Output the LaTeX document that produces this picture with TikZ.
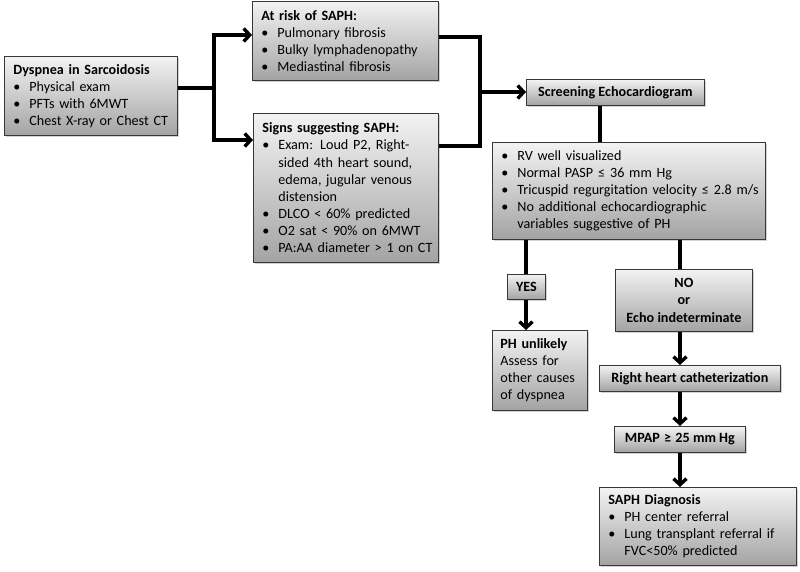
\documentclass[tikz,border=0pt]{standalone}
\usepackage{fontspec}
\setmainfont{Carlito}
\usetikzlibrary{arrows.meta,shadows}
\definecolor{boxtop}{RGB}{243,243,243}
\definecolor{boxbot}{RGB}{163,163,163}
\definecolor{boxline}{RGB}{55,55,55}
\newcommand\bul[1]{\mbox{\makebox[16bp][l]{•}#1}}
\newcommand\cont[1]{\mbox{\hspace*{16bp}#1}}
\newcommand\ttl[1]{\mbox{\textbf{#1}}}
\newcommand\lesym{\hspace{0.35em}≤\hspace{0.35em}}
\newcommand\gesym{\hspace{0.3em}≥\hspace{0.3em}}
\tikzset{
  box/.style={draw=boxline, line width=0.8bp, top color=boxtop, bottom color=boxbot,
    drop shadow={shadow xshift=1.5bp,shadow yshift=-1.5bp,opacity=0.35},
    inner ysep=0pt, anchor=north west, font=\fontsize{14.2}{17.2}\selectfont},
  lbox/.style={box, inner xsep=9bp, align=left},
  cbox/.style={box, inner xsep=2bp, align=center, font=\fontsize{14.2}{17.2}\selectfont\bfseries},
  link/.style={line width=3.4bp},
  arr/.style={link, -{Straight Barb[length=6bp,width=13bp]}},
}
\begin{document}
\begin{tikzpicture}[x=1bp,y=-1bp]
\fill[white] (0,0) rectangle (800,572);
\useasboundingbox (0,0) rectangle (800,572);

\node[lbox, text width=155bp, minimum height=79bp] (dys) at (4,56)
  {\ttl{Dyspnea in Sarcoidosis}\\ \bul{Physical exam}\\ \bul{PFTs with 6MWT}\\ \bul{Chest X-ray or Chest CT}};
\node[lbox, text width=168bp, minimum height=79bp] (risk) at (252,1)
  {\ttl{At risk of SAPH:}\\ \bul{Pulmonary fibrosis}\\ \bul{Bulky lymphadenopathy}\\ \bul{Mediastinal fibrosis}};
\node[lbox, text width=167bp, minimum height=149bp] (signs) at (253,113)
  {\ttl{Signs suggesting SAPH:}\\ \bul{Exam: Loud P2, Right-}\\ \cont{sided 4th heart sound,}\\ \cont{edema, jugular venous}\\ \cont{distension}\\ \bul{DLCO < 60\% predicted}\\ \bul{O2 sat < 90\% on 6MWT}\\ \bul{PA:AA diameter > 1 on CT}};
\node[cbox, minimum width=178bp, minimum height=26bp] (screen) at (526,79) {Screening Echocardiogram};
\node[lbox, text width=255bp, minimum height=97bp] (rv) at (492,142)
  {\bul{RV well visualized}\\ \bul{Normal PASP\lesym 36 mm Hg}\\ \bul{Tricuspid regurgitation velocity\lesym 2.8 m/s}\\ \bul{No additional echocardiographic}\\ \cont{variables suggestive of PH}};
\node[cbox, minimum width=38bp, minimum height=25bp] (yes) at (507,274) {YES};
\node[lbox, inner xsep=8bp, text width=79bp, minimum height=80bp] (ph) at (492,330)
  {\ttl{PH unlikely}\\ \mbox{Assess for}\\ \mbox{other causes}\\ \mbox{of dyspnea}};
\node[cbox, minimum width=137bp, minimum height=62bp] (no) at (615,269) {NO\\ or\\ Echo indeterminate};
\node[cbox, minimum width=181bp, minimum height=26bp] (rhc) at (599,365) {Right heart catheterization};
\node[cbox, minimum width=131bp, minimum height=26bp] (mpap) at (614,426) {MPAP\gesym 25 mm Hg};
\node[lbox, text width=179bp, minimum height=78bp] (saph) at (599,487)
  {\ttl{SAPH Diagnosis}\\ \bul{PH center referral}\\ \bul{Lung transplant referral if}\\ \cont{FVC<50\% predicted}};

\coordinate (j1) at (214,88);
\coordinate (ja) at (214,35);
\coordinate (jb) at (214,140);
\draw[link] (dys.east|-j1) -- (j1);
\draw[arr] (j1) -- (ja) -- (risk.west|-ja);
\draw[arr] (j1) -- (jb) -- (signs.west|-jb);

\coordinate (k1) at (480,37);
\coordinate (k2) at (480,146);
\coordinate (k0) at (480,92);
\draw[link] (risk.east|-k1) -- (k1) -- (k2) -- (signs.east|-k2);
\draw[arr] (k0) -- (screen.west|-k0);

\coordinate (s1) at (600,0);
\draw[link] (screen.south-|s1) -- (rv.north-|s1);
\coordinate (y1) at (526,0);
\draw[link] (rv.south-|y1) -- (yes.north-|y1);
\draw[arr] (yes.south-|y1) -- (ph.north-|y1);
\coordinate (n1) at (680,0);
\draw[link] (rv.south-|n1) -- (no.north-|n1);
\draw[arr] (no.south-|n1) -- (rhc.north-|n1);
\draw[arr] (rhc.south-|n1) -- (mpap.north-|n1);
\draw[arr] (mpap.south-|n1) -- (saph.north-|n1);
\end{tikzpicture}
\end{document}
